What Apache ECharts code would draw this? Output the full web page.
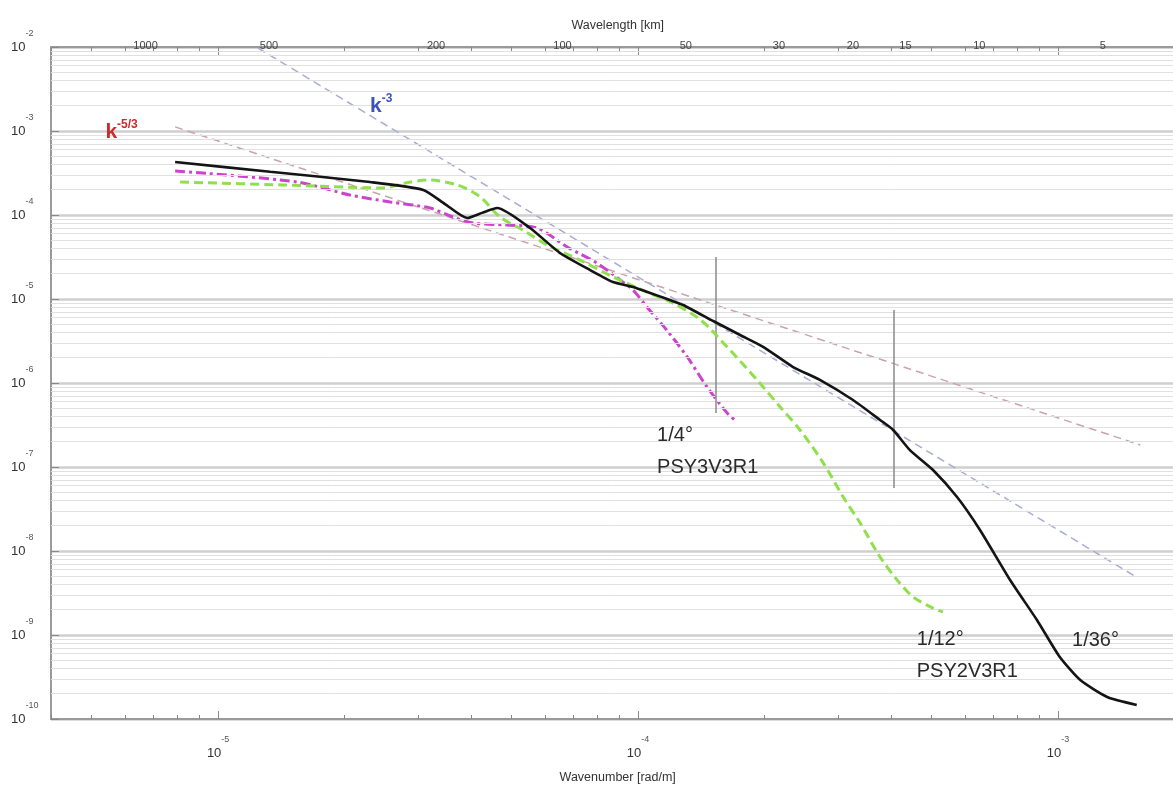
<!DOCTYPE html>
<html><head><meta charset="utf-8">
<script src="https://cdn.jsdelivr.net/npm/echarts@6/dist/echarts.min.js"></script>
<style>html,body{margin:0;padding:0;background:#fff}#c{width:1173px;height:787px}</style>
</head><body><div id="c"></div>
<script>
// ---- data (wavenumber [rad/m], spectral density) ----
const curve36 = [[7.9e-6,4.27e-4],[1.33e-5,3.27e-4],[2.30e-5,2.47e-4],[3.08e-5,1.99e-4],[3.47e-5,1.35e-4],[3.92e-5,9.2e-5],[4.25e-5,1.06e-4],[4.62e-5,1.21e-4],[5.53e-5,7.0e-5],[6.52e-5,3.53e-5],[7.69e-5,2.21e-5],[8.72e-5,1.59e-5],[9.73e-5,1.39e-5],[1.19e-4,9.73e-6],[1.28e-4,8.49e-6],[1.51e-4,5.47e-6],[1.75e-4,3.73e-6],[1.99e-4,2.68e-6],[2.34e-4,1.55e-6],[2.71e-4,1.09e-6],[3.25e-4,6.28e-7],[3.77e-4,3.63e-7],[4.05e-4,2.76e-7],[4.44e-4,1.59e-7],[5.04e-4,9.2e-8],[5.75e-4,4.39e-8],[6.52e-4,1.78e-8],[7.69e-4,4.52e-9],[8.91e-4,1.51e-9],[1.01e-3,5.47e-10],[1.13e-3,2.91e-10],[1.31e-3,1.83e-10],[1.54e-3,1.47e-10]];
const curve12 = [[8.12e-6,2.47e-4],[1.43e-5,2.28e-4],[2.47e-5,2.10e-4],[2.79e-5,2.40e-4],[3.15e-5,2.61e-4],[3.71e-5,2.28e-4],[4.21e-5,1.64e-4],[4.69e-5,9.47e-5],[5.32e-5,6.62e-5],[6.07e-5,4.39e-5],[7.27e-5,2.91e-5],[8.72e-5,1.83e-5],[1.05e-4,1.21e-5],[1.21e-4,8.96e-6],[1.41e-4,5.62e-6],[1.63e-4,2.68e-6],[1.92e-4,1.09e-6],[2.18e-4,5.18e-7],[2.43e-4,2.76e-7],[2.76e-4,1.12e-7],[3.08e-4,4.39e-8],[3.38e-4,2.15e-8],[3.77e-4,8.49e-9],[4.14e-4,4.52e-9],[4.52e-4,2.83e-9],[5.04e-4,2.09e-9],[5.32e-4,1.88e-9]];
const curve4 = [[7.9e-6,3.34e-4],[1.54e-5,2.47e-4],[2.06e-5,1.73e-4],[2.57e-5,1.43e-4],[3.20e-5,1.21e-4],[3.57e-5,9.73e-5],[4.05e-5,8.03e-5],[4.87e-5,7.60e-5],[5.75e-5,7.0e-5],[6.78e-5,4.16e-5],[7.98e-5,2.68e-5],[9.21e-5,1.59e-5],[9.73e-5,1.28e-5],[1.05e-4,8.03e-6],[1.17e-4,4.27e-6],[1.31e-4,2.04e-6],[1.46e-4,8.96e-7],[1.63e-4,4.39e-7],[1.70e-4,3.63e-7]];
const slope53 = [[7.9e-6,1.12e-3],[1.57e-3,1.83e-7]];
const slope3 = [[1.245e-5,9.7e-3],[1.55e-3,4.77e-9]];
const resolutionMarks = [[1.53e-4,3.16e-5,4.40e-7],[4.07e-4,7.40e-6,5.62e-8]];
const wavelengthKm = [1000,500,200,100,50,30,20,15,10,5];
const xRange = [4e-6, 2e-3];
const yRange = [1e-10, 1e-2];

// ---- helpers ----
const FONT = "'Liberation Sans', Arial, sans-serif";
function minorValues(e0, e1, lo, hi) {
  const out = [];
  for (let e = e0; e <= e1; e++) for (let m = 1; m <= 9; m++) {
    const v = +(m * Math.pow(10, e)).toPrecision(3);
    if (m > 1 && v >= lo && v <= hi) out.push(v);
  }
  return out;
}
const xMinor = minorValues(-6, -3, xRange[0], xRange[1]);
const yMinor = minorValues(-10, -3, yRange[0], yRange[1]);
const wavenumberOfLambda = wavelengthKm.map(l => 2 * Math.PI / (l * 1000));

function powLabel(v) {
  const l = Math.log10(v), e = Math.round(l);
  if (Math.abs(l - e) > 1e-6) return '';
  return '{b|10}{e|' + e + '}';
}
const rich = {
  b: {fontSize: 13, color: '#333', lineHeight: 36, fontFamily: FONT},
  e: {fontSize: 9, color: '#555', verticalAlign: 'top', fontFamily: FONT}
};
const hidden = {show: false};

const chart = echarts.init(document.getElementById('c'), null, {renderer: 'canvas'});
chart.setOption({
  animation: false,
  backgroundColor: '#fff',
  textStyle: {fontFamily: FONT},
  grid: {left: 51, right: -11.4, top: 47, bottom: 68, containLabel: false, outerBoundsMode: 'none'},
  xAxis: [
    {type: 'log', position: 'bottom', min: xRange[0], max: xRange[1],
     axisLine: {show: true, lineStyle: {color: '#9a9a9a', width: 2}},
     axisTick: {show: true, inside: true, length: 8, lineStyle: {color: '#888'}},
     axisLabel: {margin: 16, formatter: powLabel, rich: rich, showMinLabel: false, showMaxLabel: false},
     splitLine: hidden,
     name: 'Wavenumber [rad/m]', nameLocation: 'middle', nameGap: 52,
     nameTextStyle: {fontSize: 12.5, color: '#333', fontFamily: FONT}},
    {type: 'log', position: 'top', min: xRange[0], max: xRange[1],
     axisLine: {show: true, lineStyle: {color: '#9a9a9a', width: 2}},
     axisTick: {show: true, inside: true, length: 4, customValues: xMinor, lineStyle: {color: '#888'}},
     axisLabel: {customValues: wavenumberOfLambda, align: 'left', margin: -4, fontSize: 11, color: '#444',
       formatter: v => String(Math.round(2 * Math.PI / v / 1000))},
     splitLine: hidden,
     name: 'Wavelength [km]', nameLocation: 'middle', nameGap: 15,
     nameTextStyle: {fontSize: 12.5, color: '#333', fontFamily: FONT}},
    {type: 'log', position: 'bottom', min: xRange[0], max: xRange[1],
     axisLine: hidden, axisLabel: hidden, splitLine: hidden,
     axisTick: {show: true, inside: true, length: 4, customValues: xMinor, lineStyle: {color: '#888'}}},
    {type: 'log', position: 'top', min: xRange[0], max: xRange[1],
     axisLine: hidden, axisLabel: hidden, splitLine: hidden,
     axisTick: {show: true, inside: true, length: 8, lineStyle: {color: '#888'}}}
  ],
  yAxis: [
    {type: 'log', position: 'left', min: yRange[0], max: yRange[1],
     axisLine: {show: true, lineStyle: {color: '#9a9a9a', width: 2}},
     axisTick: {show: true, inside: true, length: 8, lineStyle: {color: '#888'}},
     axisLabel: {align: 'left', margin: 40, formatter: powLabel, rich: rich},
     splitLine: {show: true, lineStyle: {color: '#cfcfcf', width: 2.5}}},
    {type: 'log', position: 'left', min: yRange[0], max: yRange[1],
     axisLine: hidden, axisLabel: hidden, splitLine: hidden,
     axisTick: {show: true, inside: true, length: 4, customValues: yMinor, lineStyle: {color: '#999'}}}
  ],
  series: [
    {type: 'line', name: 'grid', data: [], z: 1, silent: true,
     markLine: {silent: true, symbol: ['none', 'none'], label: hidden, animation: false,
       lineStyle: {color: '#e0e0e0', width: 1, type: 'solid'},
       data: yMinor.map(v => [{coord: [xRange[0], v]}, {coord: [xRange[1], v]}])}},
    {type: 'line', name: 'k-5/3', data: slope53, z: 2, symbol: 'none',
     lineStyle: {color: '#c9a3ad', width: 1.5, type: [8, 5]},
     markPoint: {symbol: 'circle', symbolSize: 0, silent: true,
       data: [{coord: [5.39e-6, 9.72e-4], value: 0}],
       label: {show: true, position: 'right', distance: 0, formatter: '{k|k}{s|-5/3}',
         rich: {k: {fontSize: 21, color: '#cc2b2b', lineHeight: 26, fontWeight: 'bold', fontFamily: FONT},
                s: {fontSize: 12, color: '#cc2b2b', verticalAlign: 'top', fontWeight: 'bold', fontFamily: FONT}}}}},
    {type: 'line', name: 'k-3', data: slope3, z: 2, symbol: 'none',
     lineStyle: {color: '#a9acd4', width: 1.5, type: [8, 5]},
     markPoint: {symbol: 'circle', symbolSize: 0, silent: true,
       data: [{coord: [2.30e-5, 1.99e-3], value: 0}],
       label: {show: true, position: 'right', distance: 0, formatter: '{k|k}{s|-3}',
         rich: {k: {fontSize: 21, color: '#3f51bd', lineHeight: 26, fontWeight: 'bold', fontFamily: FONT},
                s: {fontSize: 12, color: '#3f51bd', verticalAlign: 'top', fontWeight: 'bold', fontFamily: FONT}}}}},
    {type: 'line', name: 'marks', data: [], z: 2, silent: true,
     markLine: {silent: true, symbol: ['none', 'none'], label: hidden, animation: false,
       lineStyle: {color: '#8a8a8a', width: 1.5, type: 'solid'},
       data: resolutionMarks.map(r => [{coord: [r[0], r[1]]}, {coord: [r[0], r[2]]}])}},
    {type: 'line', name: '1/4', data: curve4, z: 4, symbol: 'none', smooth: 0.3,
     lineStyle: {color: '#cc44cc', width: 3, type: [10, 4, 3, 4]},
     markPoint: {symbol: 'circle', symbolSize: 0, silent: true,
       data: [{coord: [1.11e-4, 1.51e-7], value: 0}],
       label: {show: true, position: 'right', distance: 0, align: 'left', formatter: '1/4°\nPSY3V3R1',
         fontSize: 20, lineHeight: 32, color: '#2a2a2a', fontFamily: FONT}}},
    {type: 'line', name: '1/12', data: curve12, z: 5, symbol: 'none', smooth: 0.3,
     lineStyle: {color: '#8fe04a', width: 3, type: [9, 5]},
     markPoint: {symbol: 'circle', symbolSize: 0, silent: true,
       data: [{coord: [4.61e-4, 5.70e-10], value: 0}],
       label: {show: true, position: 'right', distance: 0, align: 'left', formatter: '1/12°\nPSY2V3R1',
         fontSize: 20, lineHeight: 32, color: '#2a2a2a', fontFamily: FONT}}},
    {type: 'line', name: '1/36', data: curve36, z: 6, symbol: 'none', smooth: 0.2,
     lineStyle: {color: '#141414', width: 2.6},
     markPoint: {symbol: 'circle', symbolSize: 0, silent: true,
       data: [{coord: [1.08e-3, 8.71e-10], value: 0}],
       label: {show: true, position: 'right', distance: 0, align: 'left', formatter: '1/36°',
         fontSize: 20, color: '#2a2a2a', fontFamily: FONT}}}
  ]
});
</script></body></html>
